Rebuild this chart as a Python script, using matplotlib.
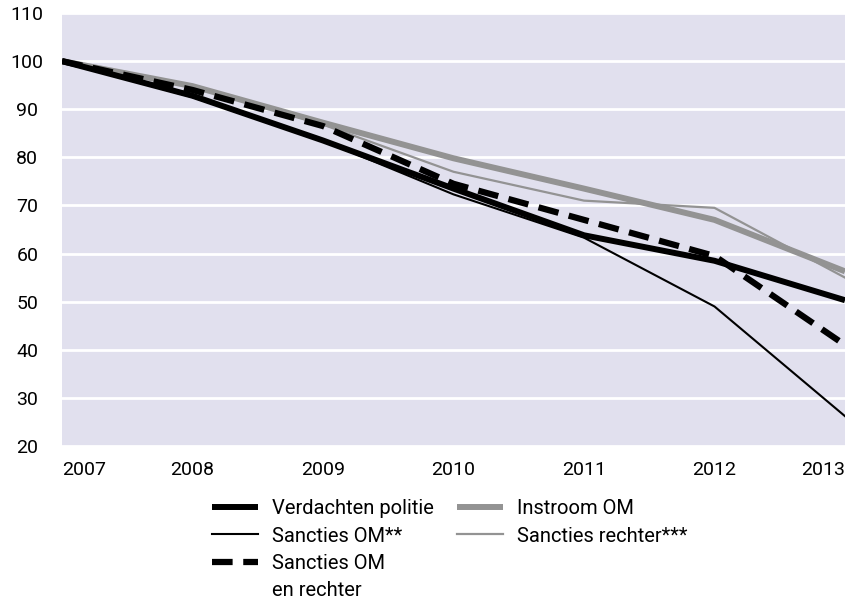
import matplotlib
matplotlib.use('Agg')
import matplotlib.pyplot as plt
from matplotlib.lines import Line2D

plt.rcParams['font.family'] = ['Roboto', 'DejaVu Sans']

# data (index 2007 = 100)
years = [2007, 2008, 2009, 2010, 2011, 2012, 2013]
verdachten_politie = [100, 92.8, 83.5, 73.5, 63.8, 58.5, 50.3]
sancties_om = [100, 92.5, 83.5, 72.3, 63.3, 49, 26.2]
sancties_om_rechter = [100, 94, 86.5, 74.5, 67, 59.5, 41]
instroom_om = [100, 94.8, 87.2, 79.8, 73.5, 67, 56.3]
sancties_rechter = [100, 95, 86.8, 77, 71, 69.5, 55]
yticks = [20, 30, 40, 50, 60, 70, 80, 90, 100, 110]

black = '#000000'
grey = '#939393'
bg = '#e1e0ee'
fs = 14

fig = plt.figure(figsize=(8.56, 6), dpi=100)
ax = fig.add_axes([62 / 856, 1 - 446 / 600, (845 - 62) / 856, (446 - 13) / 600])
ax.set_facecolor(bg)

l_instroom, = ax.plot(years, instroom_om, color=grey, lw=4.3, solid_capstyle='butt', zorder=3)
l_rechter, = ax.plot(years, sancties_rechter, color=grey, lw=1.6, zorder=4)
l_verd, = ax.plot(years, verdachten_politie, color=black, lw=4.3, solid_capstyle='butt', zorder=5)
l_som, = ax.plot(years, sancties_om, color=black, lw=1.5, zorder=6)
l_dash, = ax.plot(years, sancties_om_rechter, color=black, lw=4.5, dashes=(3.3, 1.7),
                  dash_capstyle='butt', zorder=7)

ax.set_xlim(2007, 2013)
ax.set_ylim(20, 110)
ax.set_yticks(yticks)
ax.set_xticks(years)
ax.set_xticklabels([str(y) for y in years], fontsize=fs)
ax.set_yticklabels([str(v) for v in yticks], fontsize=fs)
ax.tick_params(axis='both', length=0)
ax.tick_params(axis='y', pad=25)
ax.tick_params(axis='x', pad=11)
for lab in ax.get_yticklabels():
    lab.set_horizontalalignment('center')
xl = ax.get_xticklabels()
xl[0].set_horizontalalignment('left')
xl[-1].set_horizontalalignment('right')

ax.grid(axis='y', color='white', lw=2)
ax.set_axisbelow(True)
for s in ax.spines.values():
    s.set_visible(False)

blank = Line2D([], [], color='none')
handles = [l_verd, l_som, l_dash, blank, l_instroom, l_rechter, blank, blank]
labels = ['Verdachten politie', 'Sancties OM**', 'Sancties OM', 'en rechter',
          'Instroom OM', 'Sancties rechter***', '', '']
fig.legend(handles, labels, loc='upper left', bbox_to_anchor=(202 / 856, 1 - 489 / 600),
           ncol=2, frameon=False, fontsize=14.5, borderpad=0, handlelength=2.3,
           handletextpad=0.7, columnspacing=1.1, labelspacing=0.42)

fig.savefig('out.png', dpi=100)
